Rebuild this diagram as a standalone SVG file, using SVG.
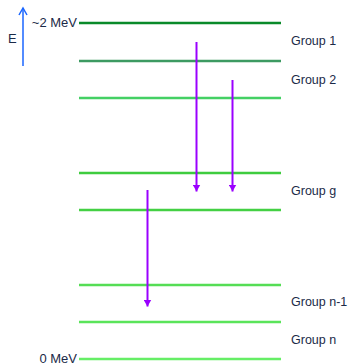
<svg xmlns="http://www.w3.org/2000/svg" width="350" height="364" viewBox="0 0 350 364">
<defs>
<marker id="ah" markerWidth="8" markerHeight="8" refX="7" refY="4" orient="auto" markerUnits="userSpaceOnUse" viewBox="0 0 8 8">
<path d="M0,0 L7,4 L0,8 Z" fill="#9a00ff"/>
</marker>
<marker id="bh" markerWidth="10" markerHeight="10" refX="8" refY="5" orient="auto" markerUnits="userSpaceOnUse" viewBox="0 0 10 10">
<path d="M1,1 L8,5 L1,9" fill="none" stroke="#1a66ff" stroke-width="1.5"/>
</marker>
<style>
text{font-family:"Liberation Sans",Arial,sans-serif;font-size:12.5px;fill:#1b2a48}
.lv{stroke-width:2.5}
.tr{stroke:#9a00ff;stroke-width:2;fill:none}
</style>
</defs>
<rect width="350" height="364" fill="#fff"/>
<g id="axis">
<line x1="23" y1="66" x2="23" y2="8" stroke="#1a66ff" stroke-width="1.5" marker-end="url(#bh)"/>
<text x="8" y="43" style="font-size:13px">E</text>
<text x="77" y="27" text-anchor="end" style="font-size:13px">~2 MeV</text>
<text x="77" y="363" text-anchor="end" style="font-size:13px">0 MeV</text>
</g>
<g id="levels">
<line class="lv" x1="79" y1="23" x2="281" y2="23" stroke="#0a8a2a"/>
<line class="lv" x1="79" y1="61" x2="281" y2="61" stroke="#3d9a62"/>
<line class="lv" x1="79" y1="98" x2="281" y2="98" stroke="#44d064"/>
<line class="lv" x1="79" y1="173" x2="281" y2="173" stroke="#3ecc3e"/>
<line class="lv" x1="79" y1="210" x2="281" y2="210" stroke="#44d044"/>
<line class="lv" x1="79" y1="285" x2="281" y2="285" stroke="#55dd55"/>
<line class="lv" x1="79" y1="322" x2="281" y2="322" stroke="#5ae45a"/>
<line class="lv" x1="79" y1="359" x2="281" y2="359" stroke="#66ee66"/>
</g>
<g id="labels">
<text x="291" y="45">Group 1</text>
<text x="291" y="84">Group 2</text>
<text x="291" y="195">Group g</text>
<text x="291" y="306">Group n-1</text>
<text x="291" y="344">Group n</text>
</g>
<g id="connectors">
<line class="tr" x1="196.5" y1="42" x2="196.5" y2="191.5" marker-end="url(#ah)"/>
<line class="tr" x1="232.5" y1="80" x2="232.5" y2="191.5" marker-end="url(#ah)"/>
<line class="tr" x1="147.5" y1="190" x2="147.5" y2="306.5" marker-end="url(#ah)"/>
</g>
</svg>
